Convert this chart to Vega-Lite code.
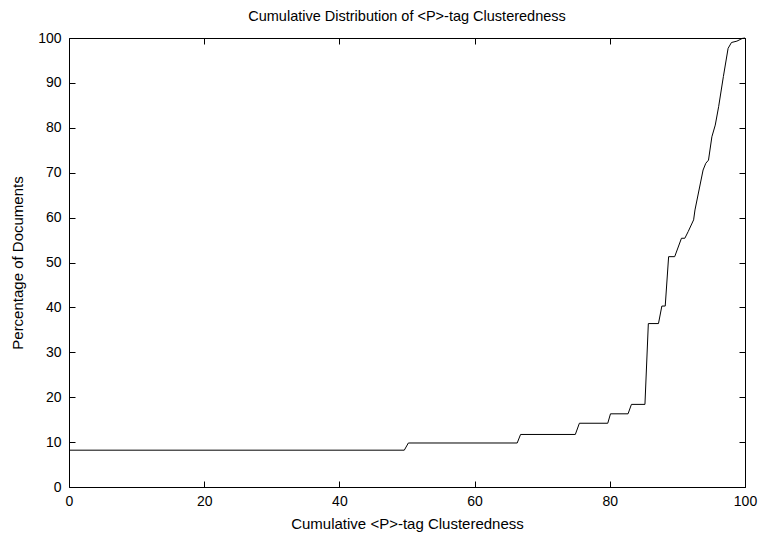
{
  "$schema": "https://vega.github.io/schema/vega-lite/v6.json",
  "autosize": "none",
  "width": 676,
  "height": 449,
  "padding": {"left": 69, "top": 38, "right": 16, "bottom": 51},
  "background": "white",
  "title": {"text": "Cumulative Distribution of <P>-tag Clusteredness", "font": "Liberation Sans", "fontSize": 14.5, "fontWeight": "normal", "color": "black", "offset": 7},
  "config": {
    "view": {"stroke": "black", "strokeWidth": 1},
    "axis": {"labelFont": "Liberation Sans", "labelFontSize": 14, "labelColor": "black", "titleFont": "Liberation Sans", "titleFontSize": 15, "titleFontWeight": "normal", "titleColor": "black", "grid": false, "domain": false, "tickColor": "black", "tickSize": -6, "labelFlush": false, "labelOverlap": false, "labelBound": false}
  },
  "data": {"values": [
    {"x": 0, "y": 8.2}, {"x": 49.6, "y": 8.2}, {"x": 50.2, "y": 9.8}, {"x": 66.3, "y": 9.8}, {"x": 66.8, "y": 11.7},
    {"x": 74.9, "y": 11.7}, {"x": 75.5, "y": 14.2}, {"x": 79.7, "y": 14.2}, {"x": 80.1, "y": 16.3}, {"x": 82.7, "y": 16.3},
    {"x": 83.2, "y": 18.4}, {"x": 85.2, "y": 18.4}, {"x": 85.7, "y": 36.4}, {"x": 87.2, "y": 36.4}, {"x": 87.7, "y": 40.3},
    {"x": 88.2, "y": 40.3}, {"x": 88.7, "y": 51.3}, {"x": 89.6, "y": 51.3}, {"x": 90.6, "y": 55.4}, {"x": 91.1, "y": 55.4},
    {"x": 91.6, "y": 56.9}, {"x": 92.4, "y": 59.5}, {"x": 92.6, "y": 61.7}, {"x": 93.8, "y": 70.6}, {"x": 94.2, "y": 72.1},
    {"x": 94.6, "y": 72.8}, {"x": 95.1, "y": 78.0}, {"x": 95.6, "y": 80.6}, {"x": 96.1, "y": 84.7}, {"x": 96.8, "y": 91.4},
    {"x": 97.5, "y": 97.7}, {"x": 98.0, "y": 99.0}, {"x": 98.8, "y": 99.3}, {"x": 99.6, "y": 99.9}, {"x": 100, "y": 100}
  ]},
  "layer": [
    {
      "mark": {"type": "line", "color": "black", "strokeWidth": 1},
      "encoding": {
        "x": {"field": "x", "type": "quantitative", "scale": {"domain": [0, 100], "nice": false, "zero": false}, "axis": {"title": "Cumulative <P>-tag Clusteredness", "values": [0, 20, 40, 60, 80, 100], "orient": "bottom", "labelPadding": 13, "titlePadding": 8}},
        "y": {"field": "y", "type": "quantitative", "scale": {"domain": [0, 100], "nice": false}, "axis": {"title": "Percentage of Documents", "values": [0, 10, 20, 30, 40, 50, 60, 70, 80, 90, 100], "orient": "left", "labelPadding": 14, "titlePadding": 12}}
      }
    },
    {
      "mark": {"type": "line", "color": "black", "strokeWidth": 1, "opacity": 0},
      "encoding": {
        "x": {"field": "x", "type": "quantitative", "scale": {"domain": [0, 100], "nice": false, "zero": false}, "axis": {"title": null, "labels": false, "values": [0, 20, 40, 60, 80, 100], "orient": "top"}},
        "y": {"field": "y", "type": "quantitative", "scale": {"domain": [0, 100], "nice": false}, "axis": {"title": null, "labels": false, "values": [0, 10, 20, 30, 40, 50, 60, 70, 80, 90, 100], "orient": "right"}}
      }
    }
  ],
  "resolve": {"axis": {"x": "independent", "y": "independent"}}
}
